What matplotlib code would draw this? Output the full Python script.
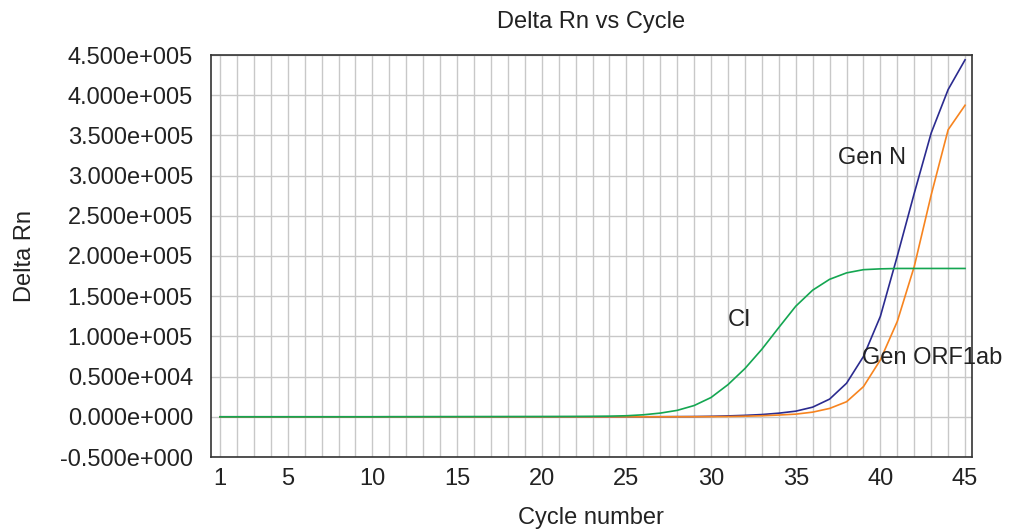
import matplotlib
matplotlib.use("Agg")
import matplotlib.pyplot as plt
import numpy as np

plt.rcParams['font.family'] = ['Liberation Sans', 'DejaVu Sans']

cycles = list(range(1, 46))

ci_values = [0, 0, 0, 0, 0, 0, 0, 0, 0, 0,
             100, 120, 150, 180, 200, 230, 260, 290, 320, 350,
             400, 480, 600, 800, 1300, 2500, 4600, 8000, 14000, 24000,
             40000, 60000, 84000, 111000, 137500, 157500, 171000, 179000, 183000, 184000,
             184500, 184500, 184500, 184500, 184500]

gen_n_values = [0, 0, 0, 0, 0, 0, 0, 0, 0, 0,
                0, 0, 0, 0, 0, 0, 0, 0, 0, 0,
                0, 0, 0, 0, 0, 50, 100, 200, 300, 600,
                1100, 1800, 2800, 4500, 7000, 12000, 22000, 41700, 75000, 125000,
                200000, 278000, 353000, 407000, 444000]

gen_orf_values = [0, 0, 0, 0, 0, 0, 0, 0, 0, 0,
                  0, 0, 0, 0, 0, 0, 0, 0, 0, 0,
                  0, 0, 0, 0, 0, 0, 0, 50, 100, 200,
                  300, 700, 1300, 2200, 3300, 5800, 10400, 18700, 37500, 70800,
                  118700, 187000, 276000, 357000, 387500]

x_ticks = [1, 5, 10, 15, 20, 25, 30, 35, 40, 45]
y_ticks = [-50000, 0, 50000, 100000, 150000, 200000, 250000, 300000, 350000, 400000, 450000]
y_tick_labels = ['-0.500e+000', '0.000e+000', '0.500e+004', '1.000e+005', '1.500e+005',
                 '2.000e+005', '2.500e+005', '3.000e+005', '3.500e+005', '4.000e+005',
                 '4.500e+005']

fig = plt.figure(figsize=(10.35, 5.29), dpi=100)
ax = fig.add_axes([211/1035, 1-457/529, (972-211)/1035, (457-55)/529])

ax.set_xlim(0.47, 45.41)
ax.set_ylim(-50000, 450000)

ax.set_xticks(cycles, minor=True)
ax.set_xticks(x_ticks)
ax.set_xticklabels([str(t) for t in x_ticks])
ax.set_yticks(y_ticks)
ax.set_yticklabels(y_tick_labels)

ax.grid(True, which='both', axis='x', color='#c8c8c8', linewidth=1.0)
ax.grid(True, which='major', axis='y', color='#c8c8c8', linewidth=1.0)
ax.set_axisbelow(True)

ax.tick_params(axis='both', which='both', length=0, labelsize=17, colors='#222222')
ax.tick_params(axis='y', pad=13)
ax.tick_params(axis='x', pad=8)

for s in ax.spines.values():
    s.set_color('#333333')
    s.set_linewidth(1.2)

ax.plot(cycles, gen_n_values, color='#2b2b8f', linewidth=1.2)
ax.plot(cycles, gen_orf_values, color='#f7841f', linewidth=1.2)
ax.plot(cycles, ci_values, color='#14a651', linewidth=1.2)

ax.text(37.5, 321900, 'Gen N', fontsize=17, va='center', ha='left', color='#222222')
ax.text(31.0, 120400, 'CI', fontsize=17, va='center', ha='left', color='#222222')
ax.text(38.9, 73100, 'Gen ORF1ab', fontsize=17, va='center', ha='left', color='#222222', clip_on=False)

fig.text(591/1035, 1-22/529, 'Delta Rn vs Cycle', fontsize=17, ha='center', va='center', color='#222222')
fig.text(591/1035, 1-518/529, 'Cycle number', fontsize=17, ha='center', va='center', color='#222222')
fig.text(25/1035, 1-256/529, 'Delta Rn', fontsize=17, ha='center', va='center', rotation=90, color='#222222')

fig.savefig('out.png', dpi=100)
